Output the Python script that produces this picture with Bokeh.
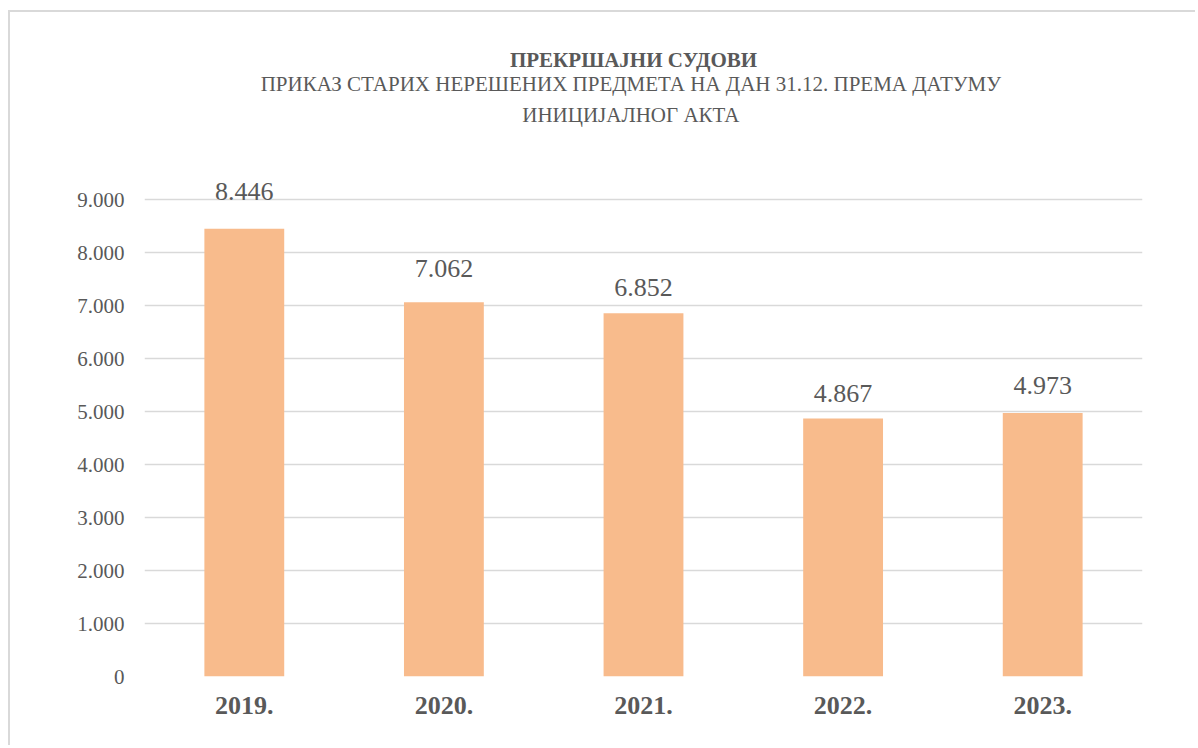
from bokeh.plotting import figure
from bokeh.models import ColumnDataSource, FixedTicker, LabelSet, Label
from bokeh.embed import file_html
from bokeh.resources import INLINE

# ---- data ----
years = ["2019.", "2020.", "2021.", "2022.", "2023."]
values = [8446, 7062, 6852, 4867, 4973]
y_ticks = [0, 1000, 2000, 3000, 4000, 5000, 6000, 7000, 8000, 9000]
y_tick_labels = ["0", "1.000", "2.000", "3.000", "4.000", "5.000", "6.000", "7.000", "8.000", "9.000"]
title_line1 = "ПРЕКРШАЈНИ СУДОВИ"
title_line2 = "ПРИКАЗ СТАРИХ НЕРЕШЕНИХ  ПРЕДМЕТА НА ДАН 31.12. ПРЕМА ДАТУМУ"
title_line3 = "ИНИЦИЈАЛНОГ  АКТА"

# label nudges (screen px above bar top) - styling only
label_gap = [29, 25, 17, 17, 19]

FONT = "Liberation Serif"
GRAY = "#595959"
BAR = "#F8BB8C"

# canvas geometry (canvas starts at page x=10, y=12 because of margin + border)
OX, OY = 10, 12
W, H = 1187, 735
ML, MT = 134, 14
FRAME_W = 998
FRAME_BOTTOM = 664          # canvas y of value 0
PX_PER_9000 = 477           # px from 0 to 9000
MR = W - ML - FRAME_W
MB = H - FRAME_BOTTOM
frame_h = FRAME_BOTTOM - MT
Y_END = 9000 * frame_h / PX_PER_9000

p = figure(x_range=years, y_range=(0, Y_END), width=W, height=H,
           output_backend="svg", toolbar_location=None,
           min_border_left=ML, min_border_right=MR,
           min_border_top=MT, min_border_bottom=MB,
           background_fill_color="white", border_fill_color="white",
           outline_line_color=None,
           styles={"margin-top": "10px", "margin-left": "8px",
                   "border-top": "2px solid #d9d9d9", "border-left": "2px solid #d9d9d9"})

labels = [f"{v:,}".replace(",", ".") for v in values]
src = ColumnDataSource(dict(x=years, top=values, lab=labels, gap=label_gap))

p.vbar(x="x", top="top", width=0.4, source=src, fill_color=BAR, line_color=None)

ls = LabelSet(x="x", y="top", text="lab", source=src, y_offset="gap",
              text_align="center", text_baseline="alphabetic",
              text_font=FONT, text_font_size="26px", text_color=GRAY)
p.add_layout(ls)

# axes
p.yaxis.ticker = FixedTicker(ticks=y_ticks)
p.yaxis.major_label_overrides = {t: l for t, l in zip(y_ticks, y_tick_labels)}
p.yaxis.axis_line_color = None
p.yaxis.major_tick_line_color = None
p.yaxis.major_tick_out = 0
p.yaxis.major_tick_in = 0
p.yaxis.minor_tick_line_color = None
p.yaxis.major_label_text_font = FONT
p.yaxis.major_label_text_font_size = "21px"
p.yaxis.major_label_text_color = GRAY
p.yaxis.major_label_standoff = 20

p.xaxis.axis_line_color = None
p.xaxis.major_tick_line_color = None
p.xaxis.major_tick_out = 0
p.xaxis.major_tick_in = 0
p.xaxis.major_label_text_font = FONT
p.xaxis.major_label_text_font_size = "26px"
p.xaxis.major_label_text_font_style = "bold"
p.xaxis.major_label_text_color = GRAY
p.xaxis.major_label_standoff = 20

p.xgrid.grid_line_color = None
p.ygrid.grid_line_color = "#d9d9d9"
p.ygrid.grid_line_width = 1.5


def px_to_y(page_y):
    fig_y = page_y - OY
    return (FRAME_BOTTOM - fig_y) * Y_END / frame_h


def px_to_x(page_x):
    fig_x = page_x - OX
    return (fig_x - ML) / FRAME_W * len(years)


cx = px_to_x(633)
for txt, py, size, bold in [(title_line1, 59, "21px", True),
                            (title_line2, 83.5, "21px", False),
                            (title_line3, 114, "21px", False)]:
    p.add_layout(Label(x=cx, y=px_to_y(py), text=txt, text_align="center",
                       text_baseline="middle", text_font=FONT,
                       text_font_size=size,
                       text_font_style="bold" if bold else "normal",
                       text_color=GRAY))

open("out.html", "w").write(file_html(p, INLINE))
